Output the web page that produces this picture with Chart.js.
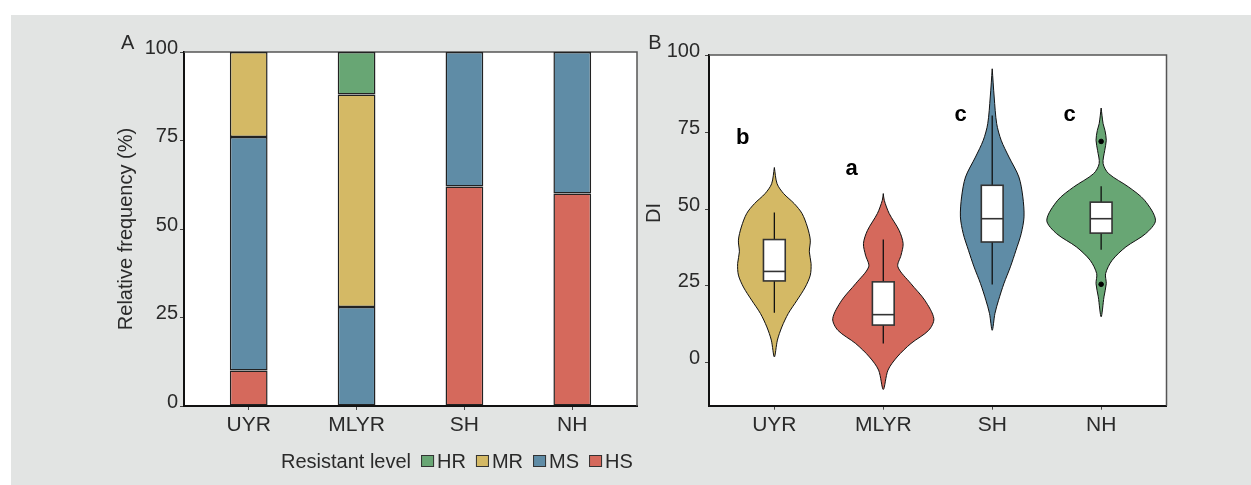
<!DOCTYPE html>
<html lang="en">
<head>
<meta charset="UTF-8">
<title>Resistant level and DI</title>
<script src="https://cdn.jsdelivr.net/npm/chart.js"></script>
<style>
  body { margin: 0; background: #fff; width: 1251px; height: 485px; position: relative; overflow: hidden; }
  #panel { position: absolute; left: 11px; top: 15px; width: 1240px; height: 470px; background: #e2e4e3; }
  canvas { position: absolute; top: 0; }
  #chartA { left: 0; }
  #chartB { left: 630px; }
</style>
</head>
<body>
<div id="panel"></div>
<canvas id="chartA" width="660" height="485"></canvas>
<canvas id="chartB" width="621" height="485"></canvas>
<script>
// categories and tick labels
const groups = ['UYR', 'MLYR', 'SH', 'NH'];
const levels = ['HR', 'MR', 'MS', 'HS'];
const freqTicks = [0, 25, 50, 75, 100];
const diTicks = [0, 25, 50, 75, 100];

// panel A: relative frequency (%) per resistant level
const hr = [0, 12, 0, 0];
const mr = [24, 60, 0, 0];
const ms = [66, 28, 38, 40];
const hs = [10, 0, 62, 60];

// panel B: violin outlines (DI value, half width in category units)
const uyrY = [63.6, 58.3, 55.1, 51.8, 48.6, 44.2, 39.9, 36.1, 32.3, 28.5, 24.6, 20.3, 16.0, 11.6, 7.3, 1.8];
const uyrW = [0, 0.025, 0.085, 0.183, 0.254, 0.303, 0.330, 0.321, 0.337, 0.330, 0.284, 0.208, 0.128, 0.069, 0.028, 0];
const mlyrY = [55.1, 52.9, 48.6, 43.1, 38.8, 35.0, 31.2, 25.7, 20.3, 14.3, 10.5, 6.2, 1.8, -2.5, -8.8];
const mlyrW = [0, 0.009, 0.054, 0.145, 0.182, 0.163, 0.134, 0.254, 0.381, 0.464, 0.417, 0.254, 0.127, 0.043, 0];
const shY = [95.8, 86.6, 77.9, 72.5, 67.0, 60.5, 54.0, 47.5, 42.0, 36.6, 31.2, 25.7, 20.3, 16.0, 10.5];
const shW = [0, 0.018, 0.041, 0.082, 0.154, 0.245, 0.281, 0.292, 0.266, 0.218, 0.167, 0.107, 0.058, 0.025, 0];
const nhY = [83.0, 77.9, 75.7, 72.5, 69.2, 64.9, 61.6, 57.2, 52.9, 46.4, 42.0, 37.7, 33.3, 29.0, 25.7, 21.4, 14.9];
const nhW = [0, 0.018, 0.035, 0.047, 0.033, 0.018, 0.069, 0.254, 0.399, 0.499, 0.408, 0.227, 0.100, 0.041, 0.047, 0.026, 0];

// panel B: box plot statistics
const whiskerLow = [16.2, 6.2, 25.4, 36.8];
const q1 = [26.6, 12.2, 39.3, 42.2];
const median = [29.7, 15.6, 46.9, 46.9];
const q3 = [40.1, 26.3, 57.8, 52.3];
const whiskerHigh = [48.9, 40.1, 80.6, 57.5];
const outlierX = [4, 4];
const outlierY = [72.1, 25.5];

// significance letters
const sigLetters = ['b', 'a', 'c', 'c'];
const sigY = [71.4, 61.3, 78.7, 78.7];

const FONT = '"Liberation Sans", Arial, sans-serif';
const TEXT = '#2a2a2a';
const levelColors = { HR: '#68a674', MR: '#d4b965', MS: '#5f8ca6', HS: '#d5695c' };
const violinColors = [levelColors.MR, levelColors.HS, levelColors.MS, levelColors.HR];

Chart.defaults.font.family = FONT;
Chart.defaults.color = TEXT;

// white plot background plus the thin top/right frame
const framePlugin = {
  id: 'frame',
  beforeDraw(chart) {
    const { ctx, chartArea: a } = chart;
    ctx.save();
    ctx.fillStyle = '#fff';
    ctx.fillRect(a.left, a.top, a.right - a.left, a.bottom - a.top);
    ctx.restore();
  },
  beforeDatasetsDraw(chart) {
    const { ctx, chartArea: a } = chart;
    ctx.save();
    ctx.strokeStyle = '#555';
    ctx.lineWidth = 1.5;
    ctx.beginPath();
    ctx.moveTo(a.left, a.top);
    ctx.lineTo(a.right, a.top);
    ctx.lineTo(a.right, a.bottom);
    ctx.stroke();
    ctx.restore();
  }
};

function categoryAxis(height) {
  return {
    type: 'linear', min: 0.4, max: 4.6, offset: false,
    afterBuildTicks: s => { s.ticks = groups.map((g, i) => ({ value: i + 1 })); },
    afterFit: s => { s.height = height; },
    ticks: { callback: v => groups[v - 1], font: { size: 21 }, color: TEXT, padding: 3 },
    grid: { offset: false, drawOnChartArea: false, tickLength: 4, color: '#444' },
    border: { color: '#111', width: 2 }
  };
}

function valueAxis(width, min, max, tickVals, pad, title) {
  return {
    min: min, max: max,
    afterBuildTicks: s => { s.ticks = tickVals.map(v => ({ value: v })); },
    afterFit: s => { s.width = width; },
    ticks: { font: { size: 20 }, color: TEXT, padding: pad, labelOffset: -4 },
    grid: { drawOnChartArea: false, tickLength: 4, color: '#444' },
    border: { color: '#111', width: 2 },
    title: title
  };
}

// ---------- panel A ----------
const legendPlugin = {
  id: 'levelLegend',
  afterDraw(chart) {
    const ctx = chart.ctx;
    ctx.save();
    ctx.font = '20px ' + FONT;
    ctx.textBaseline = 'alphabetic';
    ctx.fillStyle = TEXT;
    ctx.fillText('A', 121, 49);
    let x = 281;
    const y = 468;
    ctx.fillText('Resistant level', x, y);
    x += ctx.measureText('Resistant level').width + 10;
    levels.forEach(lv => {
      ctx.fillStyle = levelColors[lv];
      ctx.fillRect(x, y - 13, 13, 12);
      ctx.strokeStyle = '#333';
      ctx.lineWidth = 1;
      ctx.strokeRect(x + 0.5, y - 12.5, 12, 11);
      x += 16;
      ctx.fillStyle = TEXT;
      ctx.fillText(lv, x, y);
      x += ctx.measureText(lv).width + 10;
    });
    ctx.restore();
  }
};

const barSeries = [
  { label: 'HS', values: hs },
  { label: 'MS', values: ms },
  { label: 'MR', values: mr },
  { label: 'HR', values: hr }
];

new Chart(document.getElementById('chartA'), {
  type: 'bar',
  data: {
    datasets: barSeries.map(s => ({
      label: s.label,
      data: s.values.map((v, i) => ({ x: i + 1, y: v || null })),
      backgroundColor: levelColors[s.label],
      borderColor: '#222',
      borderWidth: 1.5,
      borderSkipped: false,
      inflateAmount: 0,
      barPercentage: 0.35,
      categoryPercentage: 1
    }))
  },
  options: {
    responsive: false,
    animation: false,
    layout: { padding: { top: 52, right: 23, left: 0, bottom: 0 } },
    plugins: { legend: { display: false }, tooltip: { enabled: false } },
    scales: {
      x: Object.assign(categoryAxis(79), { stacked: true }),
      y: Object.assign(valueAxis(184, 0, 100, freqTicks, 2, {
        display: true, text: 'Relative frequency (%)',
        font: { size: 20 }, color: TEXT, padding: { top: 114, bottom: 0 }
      }), { stacked: true })
    }
  },
  plugins: [framePlugin, legendPlugin]
});

// ---------- panel B ----------
function violinPoints(center, ys, ws) {
  const right = ys.map((y, i) => ({ x: center + ws[i], y: y }));
  const left = ys.map((y, i) => ({ x: center - ws[i], y: y })).reverse();
  return right.concat(left.slice(1));
}

const violins = [[uyrY, uyrW], [mlyrY, mlyrW], [shY, shW], [nhY, nhW]];

const boxPlugin = {
  id: 'boxes',
  afterDatasetsDraw(chart) {
    const { ctx, scales: { x, y } } = chart;
    ctx.save();
    groups.forEach((g, i) => {
      const cx = x.getPixelForValue(i + 1);
      const hw = x.getPixelForValue(i + 1.1) - cx;
      ctx.strokeStyle = '#111';
      ctx.lineWidth = 1.3;
      ctx.beginPath();
      ctx.moveTo(cx, y.getPixelForValue(whiskerHigh[i]));
      ctx.lineTo(cx, y.getPixelForValue(q3[i]));
      ctx.moveTo(cx, y.getPixelForValue(q1[i]));
      ctx.lineTo(cx, y.getPixelForValue(whiskerLow[i]));
      ctx.stroke();
      const top = y.getPixelForValue(q3[i]);
      const bot = y.getPixelForValue(q1[i]);
      ctx.fillStyle = '#fff';
      ctx.fillRect(cx - hw, top, hw * 2, bot - top);
      ctx.strokeStyle = '#333';
      ctx.lineWidth = 1.6;
      ctx.strokeRect(cx - hw, top, hw * 2, bot - top);
      const my = y.getPixelForValue(median[i]);
      ctx.beginPath();
      ctx.moveTo(cx - hw, my);
      ctx.lineTo(cx + hw, my);
      ctx.stroke();
    });
    ctx.fillStyle = '#000';
    ctx.font = 'bold 22px ' + FONT;
    ctx.textAlign = 'center';
    ctx.textBaseline = 'alphabetic';
    sigLetters.forEach((l, i) => {
      ctx.fillText(l, x.getPixelForValue(i + 0.71), y.getPixelForValue(sigY[i]));
    });
    ctx.restore();
  },
  afterDraw(chart) {
    const ctx = chart.ctx;
    ctx.save();
    ctx.fillStyle = TEXT;
    ctx.font = '20px ' + FONT;
    ctx.textAlign = 'center';
    ctx.textBaseline = 'alphabetic';
    ctx.fillText('B', 25, 49);
    ctx.translate(24, 213);
    ctx.rotate(-Math.PI / 2);
    ctx.textBaseline = 'middle';
    ctx.fillText('DI', 0, 0);
    ctx.restore();
  }
};

new Chart(document.getElementById('chartB'), {
  type: 'scatter',
  data: {
    datasets: violins.map((v, i) => ({
      label: groups[i],
      data: violinPoints(i + 1, v[0], v[1]),
      showLine: true,
      tension: 0.3,
      fill: 'shape',
      backgroundColor: violinColors[i],
      borderColor: '#111',
      borderWidth: 1,
      pointRadius: 0,
      order: 1
    })).concat([{
      label: 'outliers',
      data: outlierX.map((xv, i) => ({ x: xv, y: outlierY[i] })),
      pointRadius: 2.3,
      backgroundColor: '#000',
      borderColor: '#000',
      order: 0
    }])
  },
  options: {
    responsive: false,
    animation: false,
    layout: { padding: { top: 55, right: 84.5, left: 0, bottom: 0 } },
    plugins: { legend: { display: false }, tooltip: { enabled: false } },
    scales: {
      x: categoryAxis(79.3),
      y: valueAxis(79, -14.1, 100.3, diTicks, 5, { display: false })
    }
  },
  plugins: [framePlugin, boxPlugin]
});
</script>
</body>
</html>
